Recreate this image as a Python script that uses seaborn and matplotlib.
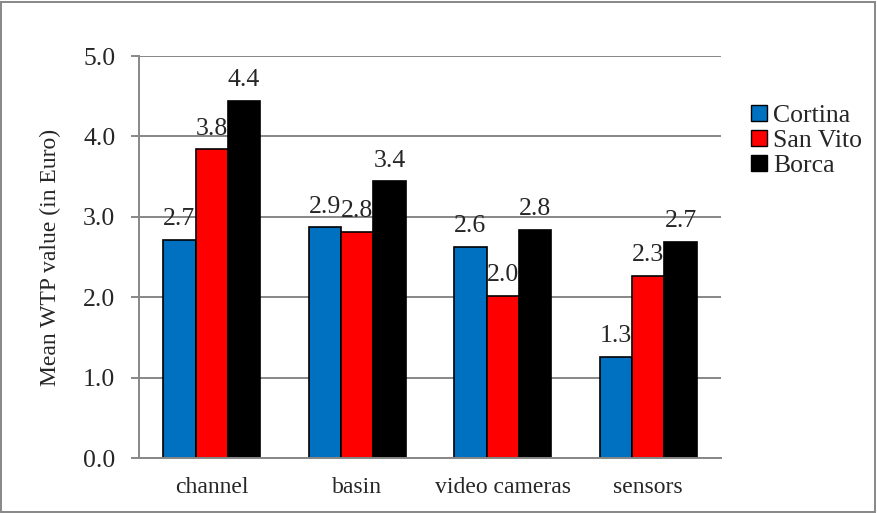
import pandas as pd
import numpy as np
import seaborn as sns
import matplotlib.pyplot as plt
from matplotlib.patches import Patch, Rectangle

## DATA
categories = ['channel', 'basin', 'video cameras', 'sensors']
towns = ['Cortina', 'San Vito', 'Borca']
cortina = [2.71, 2.87, 2.63, 1.26]
san_vito = [3.84, 2.81, 2.02, 2.27]
borca = [4.44, 3.44, 2.84, 2.69]
y_ticks = [0.0, 1.0, 2.0, 3.0, 4.0, 5.0]
colors = ['#0070C0', '#FF0000', '#000000']

df = pd.DataFrame({
    'measure': categories * 3,
    'town': [t for t in towns for _ in categories],
    'wtp': cortina + san_vito + borca,
})

sns.set_style('white')
plt.rcParams['font.family'] = ['Liberation Serif', 'DejaVu Serif']

fig = plt.figure(figsize=(8.77, 5.13), dpi=100)
ax = fig.add_axes([0.1585, 0.1072, 0.6636, 0.7836])

sns.barplot(data=df, x='measure', y='wtp', hue='town', order=categories,
            hue_order=towns, palette=colors, saturation=1, width=0.666,
            edgecolor='black', linewidth=1.2, errorbar=None, legend=False, ax=ax)

# value labels on top of the bars
for cont in ax.containers:
    ax.bar_label(cont, fmt='%.1f', padding=7, fontsize=18.5)

grid_col = '#878787'
ax.set_ylim(0, 5)
ax.set_xlim(-0.5, 3.5)
ax.set_yticks(y_ticks)
ax.set_yticklabels(['%.1f' % v for v in y_ticks])
ax.yaxis.grid(True, color=grid_col, linewidth=1.4)
ax.set_axisbelow(True)
for s in ['top', 'right']:
    ax.spines[s].set_visible(False)
for s in ['left', 'bottom']:
    ax.spines[s].set_color(grid_col)
    ax.spines[s].set_linewidth(1.4)
ax.tick_params(axis='y', left=True, length=6, width=1.4, color=grid_col,
               pad=11, labelsize=18.5)
ax.tick_params(axis='x', bottom=False, length=0, pad=14, labelsize=17)
ax.set_xlabel('')
ax.set_ylabel('Mean WTP value (in Euro)', fontsize=17, labelpad=16)

handles = [Patch(facecolor=c, edgecolor='black', linewidth=1) for c in colors]
fig.legend(handles, towns, loc='upper left', bbox_to_anchor=(0.845, 0.815),
           frameon=False, fontsize=18.5, handlelength=0.6, handleheight=0.6,
           handletextpad=0.25, labelspacing=0.1, borderaxespad=0)

fig.patches.append(Rectangle((0.001, 0.002), 0.997, 0.995, transform=fig.transFigure,
                             fill=False, edgecolor=grid_col, linewidth=1.4))

fig.savefig('out.png', dpi=100)
